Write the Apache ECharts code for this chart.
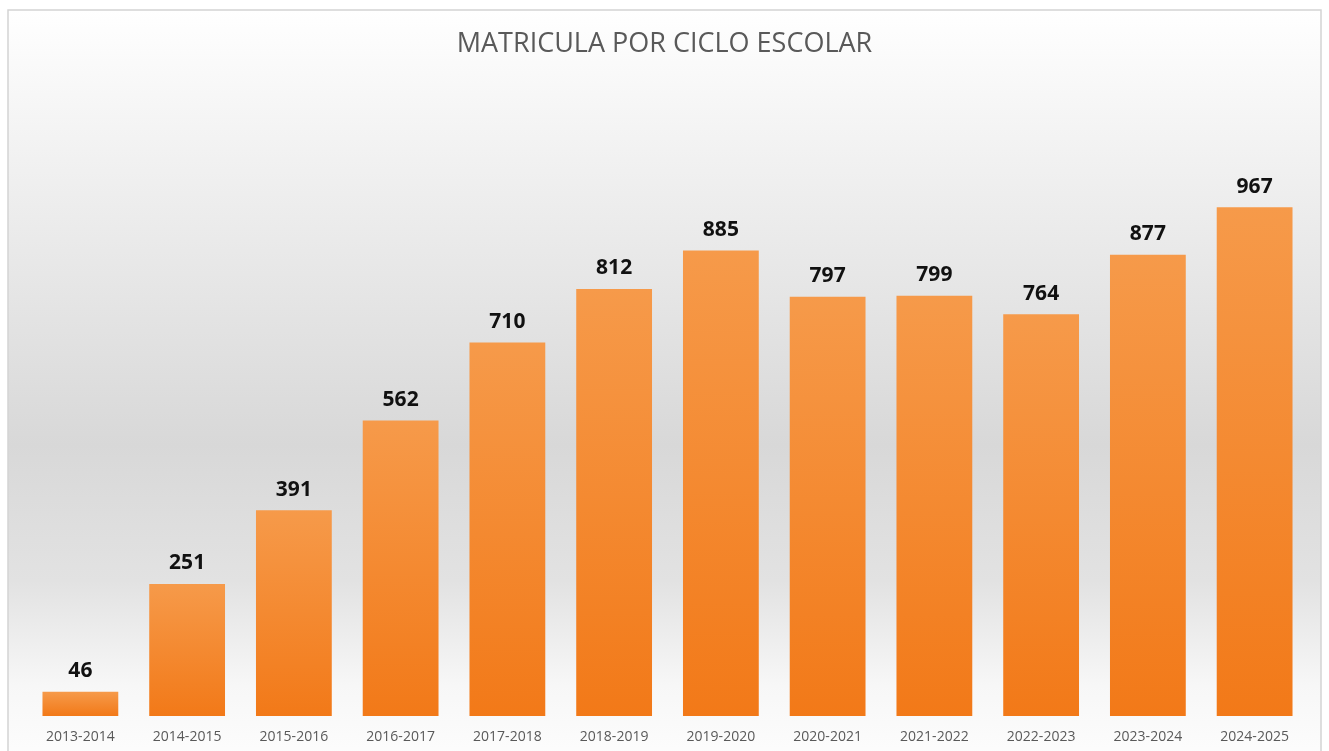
<!DOCTYPE html>
<html>
<head>
<meta charset="utf-8">
<title>Matricula por ciclo escolar</title>
<script src="https://cdn.jsdelivr.net/npm/echarts@6/dist/echarts.min.js"></script>
<style>
  html, body { margin: 0; padding: 0; background: #ffffff; }
  #chart { width: 1329px; height: 751px; }
</style>
</head>
<body>
<div id="chart"></div>
<script>
  // ciclos escolares y matrícula
  var ciclos = ["2013-2014", "2014-2015", "2015-2016", "2016-2017", "2017-2018", "2018-2019",
                "2019-2020", "2020-2021", "2021-2022", "2022-2023", "2023-2024", "2024-2025"];
  var matricula = [46, 251, 391, 562, 710, 812, 885, 797, 799, 764, 877, 967];

  var chart = echarts.init(document.getElementById("chart"));

  // fondo gris degradado del marco
  var fondo = new echarts.graphic.LinearGradient(0, 0, 0, 1, [
    { offset: 0, color: "#ffffff" },
    { offset: 0.2, color: "#f1f1f1" },
    { offset: 0.58, color: "#d8d8d8" },
    { offset: 0.76, color: "#e2e2e2" },
    { offset: 0.9, color: "#f7f7f7" },
    { offset: 1, color: "#fdfdfd" }
  ]);

  var barra = new echarts.graphic.LinearGradient(0, 0, 0, 1, [
    { offset: 0, color: "#f69a4a" },
    { offset: 1, color: "#f27918" }
  ]);

  chart.setOption({
    animation: false,
    graphic: [{
      type: "rect",
      z: -10,
      silent: true,
      shape: { x: 8, y: 10, width: 1313, height: 750 },
      style: { fill: fondo, stroke: "#d4d4d4", lineWidth: 1.5 }
    }],
    title: {
      text: "MATRICULA POR CICLO ESCOLAR",
      left: "center",
      top: 26,
      textStyle: {
        fontFamily: "Open Sans, sans-serif",
        fontSize: 27,
        fontWeight: "normal",
        color: "#595959"
      }
    },
    grid: { left: 27, right: 21, top: 190, bottom: 35 },
    xAxis: {
      type: "category",
      data: ciclos,
      axisLine: { show: false },
      axisTick: { show: false },
      axisLabel: {
        margin: 14,
        fontSize: 14,
        color: "#595959",
        fontFamily: "Open Sans, sans-serif"
      }
    },
    yAxis: {
      type: "value",
      min: 0,
      max: 1000,
      show: false,
      splitLine: { show: false }
    },
    series: [{
      type: "bar",
      data: matricula,
      barCategoryGap: "29%",
      itemStyle: { color: barra },
      label: {
        show: true,
        position: "top",
        distance: 10,
        fontSize: 21,
        fontWeight: "bold",
        color: "#111111",
        fontFamily: "Open Sans, sans-serif"
      }
    }]
  });
</script>
</body>
</html>
